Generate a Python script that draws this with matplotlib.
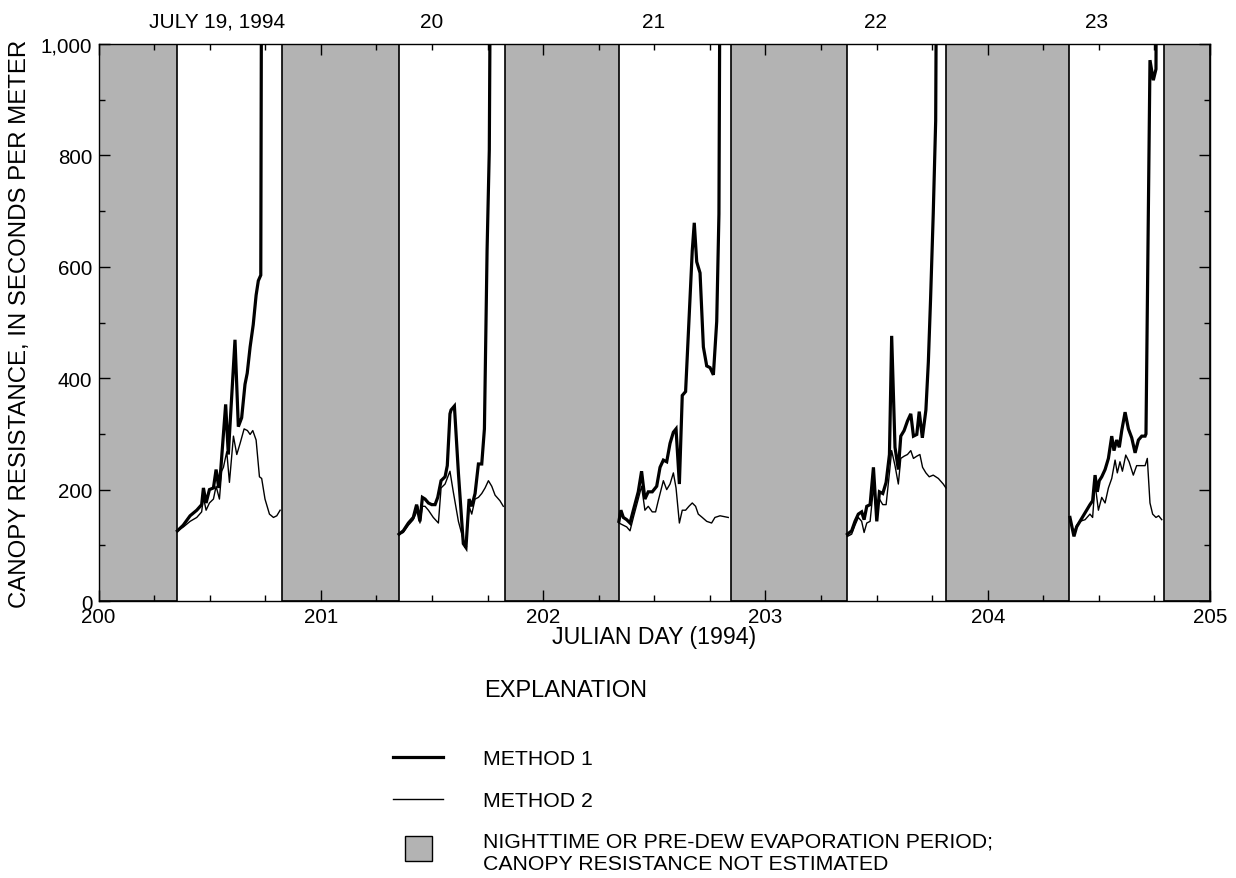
import matplotlib
matplotlib.use("Agg")
import numpy as np
import matplotlib.pyplot as plt
from matplotlib.ticker import MultipleLocator, FuncFormatter
from matplotlib.lines import Line2D
from matplotlib.patches import Rectangle
import matplotlib.transforms as mtransforms

plt.rcParams['font.family'] = ['Liberation Sans', 'DejaVu Sans']

# Calendar labels above the plot
date_labels = ["JULY 19, 1994", "20", "21", "22", "23"]
date_label_pos = [200.535, 201.5, 202.495, 203.497, 204.49]

# Nighttime / pre-dew evaporation periods (Julian day)
night_start = [200.0, 200.824, 201.829, 202.845, 203.812, 204.793]
night_end = [200.352, 201.352, 202.341, 203.369, 204.367, 205.0]

# Day 200 (fraction of day, canopy resistance in s/m)
t200_m1 = [0.355, 0.381, 0.412, 0.442, 0.464, 0.472, 0.484, 0.499, 0.517, 0.529, 0.541, 0.550,
           0.572, 0.584, 0.614, 0.629, 0.644, 0.659, 0.669, 0.682, 0.696, 0.709, 0.719, 0.730, 0.736]
r200_m1 = [126, 136, 153, 163, 173, 203, 176, 200, 203, 236, 203, 236,
           353, 263, 469, 313, 329, 389, 409, 456, 496, 549, 575, 585, 1600]
t200_m2 = [0.355, 0.382, 0.412, 0.442, 0.464, 0.472, 0.484, 0.499, 0.517, 0.529, 0.544, 0.554,
           0.562, 0.577, 0.589, 0.607, 0.622, 0.637, 0.655, 0.670, 0.682, 0.694, 0.709, 0.724,
           0.734, 0.749, 0.769, 0.787, 0.802, 0.817]
r200_m2 = [126, 133, 143, 150, 160, 186, 163, 176, 183, 206, 183, 233,
           240, 268, 213, 296, 263, 283, 309, 306, 299, 306, 289, 223,
           220, 183, 156, 150, 153, 163]

# Day 201
t201_m1 = [0.352, 0.371, 0.394, 0.416, 0.431, 0.446, 0.457, 0.469, 0.484, 0.499, 0.514, 0.526,
           0.541, 0.559, 0.569, 0.581, 0.586, 0.601, 0.619, 0.641, 0.653, 0.667, 0.679, 0.694,
           0.709, 0.724, 0.736, 0.748, 0.758, 0.769]
r201_m1 = [120, 126, 140, 150, 173, 143, 186, 183, 176, 173, 173, 186,
           216, 223, 243, 336, 343, 350, 230, 103, 96, 183, 170, 193,
           246, 246, 309, 630, 810, 1600]
t201_m2 = [0.352, 0.371, 0.394, 0.416, 0.431, 0.436, 0.446, 0.457, 0.469, 0.484, 0.506, 0.529,
           0.541, 0.559, 0.581, 0.596, 0.619, 0.641, 0.653, 0.667, 0.679, 0.694, 0.709, 0.724,
           0.739, 0.754, 0.769, 0.784, 0.806, 0.821]
r201_m2 = [120, 123, 136, 146, 160, 170, 140, 170, 170, 163, 150, 140,
           203, 210, 233, 196, 143, 110, 100, 170, 156, 183, 186, 193,
           203, 216, 206, 190, 180, 170]

# Day 202
t202_m1 = [0.341, 0.350, 0.361, 0.376, 0.391, 0.406, 0.428, 0.443, 0.458, 0.473, 0.491, 0.511,
           0.526, 0.541, 0.556, 0.571, 0.586, 0.598, 0.613, 0.626, 0.641, 0.656, 0.671, 0.680,
           0.691, 0.706, 0.721, 0.736, 0.751, 0.766, 0.781, 0.791, 0.800]
r202_m1 = [143, 163, 150, 146, 140, 163, 196, 233, 183, 196, 196, 206,
           240, 253, 250, 283, 303, 309, 210, 369, 376, 502, 629, 679,
           609, 589, 456, 422, 419, 406, 502, 695, 1600]
t202_m2 = [0.341, 0.361, 0.376, 0.391, 0.406, 0.428, 0.443, 0.458, 0.473, 0.491, 0.506, 0.518,
           0.541, 0.556, 0.571, 0.586, 0.598, 0.613, 0.626, 0.641, 0.656, 0.671, 0.686, 0.698,
           0.716, 0.736, 0.758, 0.773, 0.796, 0.833]
r202_m2 = [140, 136, 133, 126, 150, 183, 206, 163, 170, 160, 160, 180,
           216, 200, 210, 230, 203, 140, 163, 163, 170, 176, 170, 156,
           150, 143, 140, 150, 153, 150]

# Day 203
t203_m1 = [0.369, 0.388, 0.403, 0.418, 0.433, 0.444, 0.456, 0.471, 0.486, 0.501, 0.513, 0.528,
           0.543, 0.558, 0.568, 0.583, 0.598, 0.609, 0.624, 0.639, 0.654, 0.666, 0.681, 0.692,
           0.706, 0.722, 0.733, 0.743, 0.755, 0.766, 0.775]
r203_m1 = [120, 126, 143, 156, 160, 146, 170, 173, 240, 143, 196, 193,
           213, 263, 476, 276, 236, 296, 306, 323, 336, 296, 299, 340,
           293, 343, 429, 542, 695, 862, 1600]
t203_m2 = [0.369, 0.388, 0.403, 0.418, 0.433, 0.444, 0.456, 0.471, 0.486, 0.501, 0.513, 0.528,
           0.543, 0.558, 0.568, 0.583, 0.598, 0.609, 0.624, 0.639, 0.654, 0.666, 0.681, 0.695,
           0.707, 0.722, 0.737, 0.755, 0.778, 0.800, 0.812]
r203_m2 = [116, 120, 136, 150, 143, 123, 140, 143, 203, 156, 183, 173,
           173, 230, 270, 243, 210, 256, 260, 263, 270, 256, 260, 263,
           240, 230, 223, 226, 220, 210, 203]

# Day 204
t204_m1 = [0.370, 0.388, 0.400, 0.415, 0.430, 0.445, 0.460, 0.472, 0.483, 0.493, 0.502, 0.513,
           0.528, 0.543, 0.558, 0.568, 0.580, 0.592, 0.603, 0.618, 0.633, 0.648, 0.663, 0.678,
           0.693, 0.708, 0.712, 0.730, 0.745, 0.757, 0.763]
r204_m1 = [150, 116, 133, 143, 153, 163, 173, 180, 226, 196, 216, 223,
           236, 256, 296, 270, 289, 276, 306, 339, 309, 293, 266, 289,
           296, 296, 300, 971, 935, 955, 1600]
t204_m2 = [0.370, 0.388, 0.400, 0.415, 0.438, 0.460, 0.472, 0.483, 0.498, 0.513, 0.528, 0.543,
           0.558, 0.573, 0.583, 0.595, 0.606, 0.621, 0.636, 0.655, 0.670, 0.693, 0.708, 0.718,
           0.730, 0.742, 0.757, 0.769, 0.783]
r204_m2 = [143, 123, 136, 143, 146, 156, 150, 210, 163, 186, 176, 203,
           220, 253, 230, 250, 233, 262, 250, 226, 243, 243, 243, 256,
           176, 156, 150, 153, 146]

days = [200, 201, 202, 203, 204]
method1 = [(t200_m1, r200_m1), (t201_m1, r201_m1), (t202_m1, r202_m1),
           (t203_m1, r203_m1), (t204_m1, r204_m1)]
method2 = [(t200_m2, r200_m2), (t201_m2, r201_m2), (t202_m2, r202_m2),
           (t203_m2, r203_m2), (t204_m2, r204_m2)]

W, H = 1236, 879
fig = plt.figure(figsize=(W / 100, H / 100), dpi=100)
ax = fig.add_axes([98.5 / W, 1 - 602 / H, (1210 - 98.5) / W, 557 / H])

gray = '#b3b3b3'
for s, e in zip(night_start, night_end):
    ax.axvspan(s, e, facecolor=gray, edgecolor='black', linewidth=1.2, zorder=1)

for d, (t, r) in zip(days, method1):
    ax.plot(d + np.asarray(t), r, color='black', lw=2.3, zorder=3,
            solid_joinstyle='miter')
for d, (t, r) in zip(days, method2):
    ax.plot(d + np.asarray(t), r, color='black', lw=1.0, zorder=4)

ax.set_xlim(200, 205)
ax.set_ylim(0, 1000)
ax.xaxis.set_major_locator(MultipleLocator(1))
ax.xaxis.set_minor_locator(MultipleLocator(0.25))
ax.yaxis.set_major_locator(MultipleLocator(200))
ax.yaxis.set_minor_locator(MultipleLocator(100))
ax.yaxis.set_major_formatter(FuncFormatter(lambda v, p: f"{v:,.0f}"))
ax.tick_params(which='both', direction='in', top=True, right=True,
               width=1.0, labelsize=14.8, pad=4.5, zorder=6)
ax.tick_params(which='major', length=8)
ax.tick_params(which='minor', length=4)
for sp in ax.spines.values():
    sp.set_linewidth(1.0)
    sp.set_zorder(5)

# Calendar dates along the top
trans = mtransforms.blended_transform_factory(ax.transData, ax.transAxes)
for pos, lab in zip(date_label_pos, date_labels):
    ax.text(pos, 1 + 23 / 557, lab, transform=trans, ha='center', va='center',
            fontsize=15)

fig.text((98.5 + 1210) / 2 / W, 1 - 638 / H, "JULIAN DAY (1994)",
         ha='center', va='center', fontsize=16.7)
fig.text(20 / W, 1 - 323.5 / H, "CANOPY RESISTANCE, IN SECONDS PER METER",
         ha='center', va='center', rotation=90, fontsize=17.3)

# Explanation block
fig.text(484 / W, 1 - 691 / H, "EXPLANATION", ha='left', va='center', fontsize=17)
fig.add_artist(Line2D([393 / W, 443 / W], [1 - 758 / H] * 2, transform=fig.transFigure,
                      color='black', lw=2.3))
fig.text(483 / W, 1 - 760 / H, "METHOD 1", ha='left', va='center', fontsize=15.3)
fig.add_artist(Line2D([393 / W, 443 / W], [1 - 800 / H] * 2, transform=fig.transFigure,
                      color='black', lw=1.0))
fig.text(483 / W, 1 - 801.5 / H, "METHOD 2", ha='left', va='center', fontsize=15.3)
fig.add_artist(Rectangle((405 / W, 1 - 862 / H), 27 / W, 25 / H, transform=fig.transFigure,
                         facecolor=gray, edgecolor='black', lw=1.0))
fig.text(483 / W, 1 - 842 / H, "NIGHTTIME OR PRE-DEW EVAPORATION PERIOD;",
         ha='left', va='center', fontsize=15.3)
fig.text(483 / W, 1 - 865 / H, "CANOPY RESISTANCE NOT ESTIMATED",
         ha='left', va='center', fontsize=15.3)

fig.savefig("out.png", dpi=100)
